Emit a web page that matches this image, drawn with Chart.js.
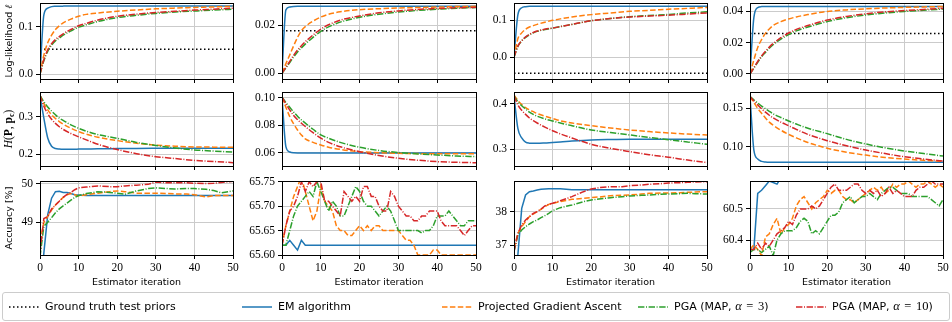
<!DOCTYPE html>
<html>
<head>
<meta charset="utf-8">
<script src="https://cdn.jsdelivr.net/npm/chart.js@4.4.0/dist/chart.umd.min.js"></script>
<style>
  body { margin: 0; background: #fff; width: 952px; height: 322px; overflow: hidden; position: relative; }
  canvas.panel { position: absolute; left: 0; top: 0; }
  #legend { position: absolute; left: 2px; top: 292px; width: 946px; height: 27px; border: 1px solid #cccccc; border-radius: 3px; background: #fff;
            font-family: "DejaVu Sans", sans-serif; font-size: 11px; color: #000; }
  #legend .item { position: absolute; top: 0; height: 27px; display: flex; align-items: center; white-space: nowrap; }
  #legend svg { margin-right: 6px; }
  #legend .m { font-family: "Liberation Serif", serif; font-size: 12.5px; word-spacing: 1.5px; }
</style>
</head>
<body>
<div id="legend">
  <div class="item" style="left:6px"><svg width="30" height="4"><line x1="0" y1="2" x2="30" y2="2" stroke="#000" stroke-width="1.5" stroke-dasharray="1.5 2.5"/></svg><span>Ground truth test priors</span></div>
  <div class="item" style="left:239px"><svg width="30" height="4"><line x1="0" y1="2" x2="30" y2="2" stroke="#1f77b4" stroke-width="1.5"/></svg><span>EM algorithm</span></div>
  <div class="item" style="left:439px"><svg width="30" height="4"><line x1="0" y1="2" x2="30" y2="2" stroke="#ff7f0e" stroke-width="1.5" stroke-dasharray="5.5 2.4"/></svg><span>Projected Gradient Ascent</span></div>
  <div class="item" style="left:635px"><svg width="30" height="4"><line x1="0" y1="2" x2="30" y2="2" stroke="#2ca02c" stroke-width="1.5" stroke-dasharray="6.4 1.6 1 1.6"/></svg><span>PGA (MAP, <span class="m"><i>α</i> = 3</span>)</span></div>
  <div class="item" style="left:793px"><svg width="30" height="4"><line x1="0" y1="2" x2="30" y2="2" stroke="#d62728" stroke-width="1.5" stroke-dasharray="6.4 1.6 1 1.6"/></svg><span>PGA (MAP, <span class="m"><i>α</i> = 10</span>)</span></div>
</div>
<script>
// ---- iterations ----
const itersSmooth = [0, 1, 2, 3, 4, 5, 6, 8, 10, 12, 15, 20, 25, 30, 35, 40, 45, 50];
const itersAcc = [0, 1, 2, 3, 4, 5, 6, 7, 8, 9, 10, 12, 15, 18, 20, 22, 25, 28, 30, 33, 35, 38, 40, 43, 45, 47, 50];
const itersAll = [0, 1, 2, 3, 4, 5, 6, 7, 8, 9, 10, 11, 12, 13, 14, 15, 16, 17, 18, 19, 20, 21, 22, 23, 24, 25,
  26, 27, 28, 29, 30, 31, 32, 33, 34, 35, 36, 37, 38, 39, 40, 41, 42, 43, 44, 45, 46, 47, 48, 49, 50];
const accIters = [itersAcc, itersAll, itersAcc, itersAll];

// ---- log-likelihood (row 1), one list per dataset column ----
const llTruth = [0.0525, 0.0178, -0.0436, 0.0259];
const llEM = [
  [0, 0.125, 0.139, 0.1423, 0.143, 0.1433, 0.1434, 0.1435, 0.1435, 0.1435, 0.1435, 0.1435, 0.1435, 0.1435, 0.1435, 0.1435, 0.1435, 0.1435],
  [0, 0.0265, 0.0277, 0.0279, 0.028, 0.028, 0.028, 0.028, 0.028, 0.028, 0.028, 0.028, 0.028, 0.028, 0.028, 0.028, 0.028, 0.028],
  [0, 0.115, 0.134, 0.137, 0.138, 0.138, 0.138, 0.138, 0.138, 0.138, 0.138, 0.138, 0.138, 0.138, 0.138, 0.138, 0.138, 0.138],
  [0, 0.036, 0.0425, 0.0431, 0.0432, 0.0432, 0.0432, 0.0432, 0.0432, 0.0432, 0.0432, 0.0432, 0.0432, 0.0432, 0.0432, 0.0432, 0.0432, 0.0432]
];
const llPGA = [
  [0, 0.040, 0.066, 0.082, 0.094, 0.102, 0.108, 0.116, 0.122, 0.126, 0.129, 0.1326, 0.1353, 0.1376, 0.1392, 0.1405, 0.1418, 0.143],
  [0, 0.004, 0.0077, 0.0115, 0.015, 0.0178, 0.0195, 0.0218, 0.0235, 0.0247, 0.0257, 0.0266, 0.027, 0.0273, 0.0275, 0.0277, 0.0279, 0.028],
  [0, 0.050, 0.066, 0.076, 0.082, 0.0856, 0.089, 0.095, 0.100, 0.104, 0.109, 0.1155, 0.120, 0.1245, 0.127, 0.130, 0.1325, 0.135],
  [0, 0.009, 0.017, 0.022, 0.026, 0.0288, 0.031, 0.0335, 0.0352, 0.0365, 0.038, 0.040, 0.041, 0.0417, 0.0422, 0.0426, 0.0429, 0.0432]
];
const llMAP3 = [
  [0, 0.028, 0.048, 0.061, 0.070, 0.076, 0.082, 0.091, 0.099, 0.104, 0.111, 0.119, 0.124, 0.128, 0.131, 0.133, 0.135, 0.137],
  [0, 0.0022, 0.0045, 0.0068, 0.0089, 0.0106, 0.0122, 0.015, 0.0175, 0.0194, 0.0214, 0.0234, 0.0247, 0.0256, 0.0263, 0.0268, 0.0272, 0.0275],
  [0, 0.029, 0.044, 0.054, 0.061, 0.066, 0.070, 0.075, 0.079, 0.083, 0.089, 0.099, 0.105, 0.110, 0.113, 0.116, 0.120, 0.123],
  [0, 0.0037, 0.0075, 0.011, 0.0138, 0.0165, 0.0187, 0.0223, 0.0252, 0.0276, 0.030, 0.0335, 0.036, 0.0377, 0.039, 0.040, 0.0408, 0.0415]
];
const llMAP10 = [
  [0, 0.030, 0.051, 0.064, 0.073, 0.079, 0.085, 0.094, 0.102, 0.107, 0.114, 0.122, 0.1265, 0.130, 0.1325, 0.135, 0.137, 0.139],
  [0, 0.0025, 0.005, 0.0075, 0.0097, 0.0115, 0.0132, 0.016, 0.0185, 0.0203, 0.0222, 0.024, 0.0253, 0.0261, 0.0267, 0.0271, 0.0274, 0.0276],
  [0, 0.030, 0.045, 0.055, 0.062, 0.067, 0.071, 0.076, 0.079, 0.083, 0.089, 0.099, 0.105, 0.109, 0.1115, 0.114, 0.117, 0.120],
  [0, 0.004, 0.008, 0.0115, 0.0145, 0.0172, 0.0195, 0.0232, 0.0262, 0.0285, 0.031, 0.0345, 0.0368, 0.0385, 0.0397, 0.0406, 0.0413, 0.042]
];

// ---- H(P, p_c) (row 2) ----
const hEM = [
  [0.357, 0.296, 0.243, 0.221, 0.215, 0.2135, 0.213, 0.213, 0.2132, 0.2135, 0.214, 0.2145, 0.215, 0.2152, 0.2153, 0.2155, 0.2155, 0.2155],
  [0.1003, 0.0644, 0.0605, 0.0599, 0.0598, 0.0598, 0.0598, 0.0598, 0.0598, 0.0598, 0.0598, 0.0598, 0.0598, 0.0598, 0.0598, 0.0598, 0.0598, 0.0598],
  [0.418, 0.346, 0.325, 0.316, 0.3135, 0.313, 0.313, 0.3138, 0.315, 0.316, 0.318, 0.3205, 0.3215, 0.322, 0.322, 0.3222, 0.3222, 0.3222],
  [0.1655, 0.0956, 0.0839, 0.0808, 0.080, 0.0797, 0.0797, 0.0797, 0.0797, 0.0797, 0.0797, 0.0797, 0.0797, 0.0797, 0.0797, 0.0797, 0.0797, 0.0797]
];
const hPGA = [
  [0.357, 0.335, 0.318, 0.305, 0.295, 0.287, 0.280, 0.269, 0.260, 0.253, 0.245, 0.236, 0.229, 0.224, 0.221, 0.219, 0.2185, 0.218],
  [0.1003, 0.093, 0.0862, 0.081, 0.0765, 0.0729, 0.070, 0.0675, 0.0656, 0.064, 0.0624, 0.0607, 0.060, 0.0595, 0.0593, 0.0592, 0.0592, 0.0592],
  [0.420, 0.408, 0.399, 0.392, 0.387, 0.383, 0.379, 0.373, 0.368, 0.363, 0.358, 0.352, 0.347, 0.3426, 0.339, 0.336, 0.3335, 0.3316],
  [0.1655, 0.1575, 0.150, 0.1435, 0.1375, 0.132, 0.128, 0.1215, 0.116, 0.1115, 0.1055, 0.098, 0.0928, 0.089, 0.086, 0.0839, 0.0822, 0.081]
];
const hMAP3 = [
  [0.357, 0.340, 0.326, 0.315, 0.305, 0.296, 0.290, 0.278, 0.269, 0.261, 0.252, 0.242, 0.231, 0.223, 0.216, 0.211, 0.208, 0.205],
  [0.1003, 0.0965, 0.093, 0.0895, 0.0865, 0.0838, 0.0815, 0.077, 0.0729, 0.0705, 0.0675, 0.0639, 0.0616, 0.0601, 0.0591, 0.0583, 0.0576, 0.0571],
  [0.418, 0.405, 0.396, 0.389, 0.382, 0.377, 0.373, 0.367, 0.3625, 0.358, 0.352, 0.3426, 0.337, 0.3316, 0.326, 0.321, 0.316, 0.311],
  [0.1655, 0.161, 0.157, 0.153, 0.1495, 0.146, 0.1428, 0.138, 0.1335, 0.1295, 0.124, 0.117, 0.1095, 0.1035, 0.0985, 0.0944, 0.091, 0.0878]
];
const hMAP10 = [
  [0.357, 0.328, 0.308, 0.293, 0.282, 0.273, 0.266, 0.255, 0.246, 0.238, 0.226, 0.212, 0.201, 0.193, 0.188, 0.183, 0.180, 0.177],
  [0.1003, 0.0955, 0.091, 0.087, 0.084, 0.0814, 0.079, 0.0745, 0.0705, 0.0675, 0.0643, 0.0607, 0.0579, 0.0559, 0.0545, 0.0535, 0.053, 0.0527],
  [0.418, 0.398, 0.386, 0.377, 0.369, 0.363, 0.358, 0.349, 0.341, 0.334, 0.325, 0.311, 0.302, 0.2947, 0.288, 0.2825, 0.276, 0.2705],
  [0.1655, 0.1595, 0.1545, 0.1495, 0.145, 0.141, 0.1375, 0.132, 0.1273, 0.1225, 0.116, 0.1078, 0.1012, 0.0956, 0.091, 0.0869, 0.0838, 0.0813]
];

// ---- accuracy [%] (row 3) ----
const accEM = [
  [47.0, 48.2, 49.2, 49.63, 49.80, 49.81, 49.78, 49.78, 49.75, 49.72, 49.71, 49.70, 49.70, 49.70, 49.70, 49.70, 49.70, 49.70, 49.70, 49.70, 49.70, 49.70, 49.70, 49.70, 49.70, 49.70, 49.70],
  [65.62, 65.62, 65.63, 65.62, 65.61, 65.63, 65.62, 65.62, 65.62, 65.62,
   65.62, 65.62, 65.62, 65.62, 65.62, 65.62, 65.62, 65.62, 65.62, 65.62,
   65.62, 65.62, 65.62, 65.62, 65.62, 65.62, 65.62, 65.62, 65.62, 65.62,
   65.62, 65.62, 65.62, 65.62, 65.62, 65.62, 65.62, 65.62, 65.62, 65.62,
   65.62, 65.62, 65.62, 65.62, 65.62, 65.62, 65.62, 65.62, 65.62, 65.62, 65.62],
  [36.0, 36.7, 38.10, 38.50, 38.60, 38.62, 38.65, 38.67, 38.68, 38.69, 38.69, 38.69, 38.66, 38.66, 38.66, 38.66, 38.66, 38.66, 38.66, 38.66, 38.66, 38.66, 38.66, 38.66, 38.66, 38.66, 38.66],
  [60.37, 60.37, 60.55, 60.56, 60.575, 60.59, 60.585, 60.58, 60.60, 60.61,
   60.61, 60.61, 60.61, 60.61, 60.61, 60.61, 60.61, 60.61, 60.61, 60.61,
   60.61, 60.61, 60.61, 60.61, 60.61, 60.61, 60.61, 60.61, 60.61, 60.61,
   60.61, 60.61, 60.61, 60.61, 60.61, 60.61, 60.61, 60.61, 60.61, 60.61,
   60.61, 60.61, 60.61, 60.61, 60.61, 60.61, 60.61, 60.61, 60.61, 60.61, 60.61]
];
const accPGA = [
  [48.5, 49.0, 49.15, 49.32, 49.45, 49.55, 49.65, 49.72, 49.75, 49.72, 49.69, 49.72, 49.76, 49.80, 49.82, 49.80, 49.76, 49.76, 49.76, 49.75, 49.74, 49.74, 49.72, 49.66, 49.70, 49.70, 49.70],
  [65.62, 65.66, 65.69, 65.72, 65.74, 65.76, 65.73, 65.70, 65.67, 65.69,
   65.74, 65.71, 65.70, 65.69, 65.66, 65.65, 65.65, 65.64, 65.64, 65.65,
   65.66, 65.65, 65.66, 65.65, 65.66, 65.66, 65.65, 65.65, 65.65, 65.65,
   65.65, 65.64, 65.63, 65.63, 65.62, 65.60, 65.60, 65.60, 65.60, 65.61,
   65.61, 65.60, 65.60, 65.60, 65.60, 65.60, 65.60, 65.60, 65.60, 65.60, 65.60],
  [36.9, 37.35, 37.55, 37.70, 37.85, 37.93, 38.00, 38.07, 38.15, 38.22, 38.25, 38.30, 38.37, 38.40, 38.42, 38.44, 38.48, 38.49, 38.50, 38.53, 38.55, 38.56, 38.56, 38.57, 38.58, 38.59, 38.60],
  [60.37, 60.385, 60.37, 60.35, 60.41, 60.42, 60.45, 60.47, 60.42, 60.44,
   60.45, 60.47, 60.51, 60.53, 60.54, 60.52, 60.50, 60.52, 60.53, 60.54,
   60.56, 60.55, 60.56, 60.56, 60.54, 60.53, 60.53, 60.52, 60.53, 60.54,
   60.55, 60.56, 60.57, 60.56, 60.57, 60.55, 60.56, 60.58, 60.57, 60.58,
   60.58, 60.59, 60.58, 60.57, 60.58, 60.58, 60.59, 60.58, 60.57, 60.58, 60.57]
];
const accMAP3 = [
  [48.1, 48.9, 49.0, 49.12, 49.25, 49.35, 49.43, 49.50, 49.58, 49.65, 49.70, 49.75, 49.80, 49.78, 49.76, 49.73, 49.82, 49.88, 49.90, 49.88, 49.87, 49.88, 49.88, 49.86, 49.83, 49.77, 49.82],
  [65.62, 65.62, 65.65, 65.68, 65.70, 65.71, 65.72, 65.73, 65.72, 65.75,
   65.73, 65.71, 65.69, 65.71, 65.70, 65.68, 65.68, 65.70, 65.72, 65.74,
   65.73, 65.71, 65.70, 65.70, 65.69, 65.68, 65.69, 65.70, 65.69, 65.67,
   65.65, 65.65, 65.65, 65.65, 65.65, 65.65, 65.645, 65.65, 65.65, 65.66,
   65.68, 65.68, 65.68, 65.69, 65.68, 65.67, 65.66, 65.66, 65.67, 65.67, 65.67],
  [36.8, 37.30, 37.45, 37.55, 37.63, 37.70, 37.75, 37.82, 37.88, 37.95, 38.03, 38.12, 38.20, 38.30, 38.35, 38.38, 38.42, 38.45, 38.47, 38.49, 38.50, 38.52, 38.53, 38.54, 38.55, 38.54, 38.53],
  [60.36, 60.37, 60.37, 60.36, 60.37, 60.38, 60.35, 60.40, 60.42, 60.43,
   60.43, 60.43, 60.44, 60.46, 60.47, 60.46, 60.42, 60.43, 60.42, 60.44,
   60.46, 60.48, 60.48, 60.49, 60.52, 60.53, 60.54, 60.52, 60.53, 60.54,
   60.54, 60.55, 60.54, 60.53, 60.55, 60.56, 60.57, 60.57, 60.56, 60.55,
   60.55, 60.55, 60.54, 60.54, 60.54, 60.54, 60.54, 60.53, 60.52, 60.51, 60.53]
];
const accMAP10 = [
  [48.2, 49.10, 49.15, 49.35, 49.45, 49.55, 49.65, 49.73, 49.78, 49.85, 49.90, 49.92, 49.95, 49.93, 49.93, 49.95, 49.97, 49.99, 50.05, 50.03, 50.03, 50.03, 50.02, 50.01, 50.02, 50.04, 50.07],
  [65.62, 65.66, 65.69, 65.70, 65.72, 65.75, 65.73, 65.75, 65.74, 65.75,
   65.75, 65.71, 65.71, 65.70, 65.69, 65.68, 65.73, 65.72, 65.71, 65.72,
   65.71, 65.74, 65.74, 65.72, 65.72, 65.70, 65.69, 65.69, 65.73, 65.72,
   65.70, 65.69, 65.68, 65.68, 65.67, 65.67, 65.68, 65.68, 65.69, 65.69,
   65.69, 65.67, 65.66, 65.66, 65.66, 65.66, 65.65, 65.64, 65.65, 65.66, 65.66],
  [36.8, 37.35, 37.60, 37.75, 37.85, 37.95, 38.00, 38.08, 38.17, 38.22, 38.25, 38.33, 38.45, 38.60, 38.68, 38.72, 38.75, 38.75, 38.78, 38.80, 38.82, 38.84, 38.86, 38.87, 38.88, 38.89, 38.90],
  [60.37, 60.37, 60.39, 60.37, 60.39, 60.38, 60.40, 60.42, 60.43, 60.44,
   60.46, 60.45, 60.48, 60.50, 60.50, 60.50, 60.51, 60.50, 60.51, 60.53,
   60.55, 60.57, 60.58, 60.56, 60.56, 60.56, 60.57, 60.58, 60.58, 60.56,
   60.55, 60.56, 60.55, 60.56, 60.54, 60.55, 60.57, 60.55, 60.56, 60.55,
   60.54, 60.54, 60.54, 60.56, 60.57, 60.57, 60.58, 60.59, 60.58, 60.58, 60.58]
];

// ---- axes ----
const llRange = [[-0.0105, 0.150], [-0.0024, 0.0294], [-0.059, 0.147], [-0.0032, 0.0454]];
const llTicks = [[0, 0.1], [0, 0.02], [0, 0.1], [0, 0.02, 0.04]];
const llDecimals = [1, 2, 1, 2];
const hRange = [[0.168, 0.366], [0.0503, 0.1041], [0.263, 0.4265], [0.0748, 0.1713]];
const hTicks = [[0.2, 0.3], [0.06, 0.08, 0.10], [0.3, 0.4], [0.10, 0.15]];
const hDecimals = [1, 2, 1, 2];
const accRange = [[48.146, 50.078], [65.60, 65.7515], [36.70, 38.92], [60.352, 60.59]];
const accTicks = [[49, 50], [65.60, 65.65, 65.70, 65.75], [37, 38], [60.4, 60.5]];
const accDecimals = [0, 2, 0, 1];
const xTicks = [0, 10, 20, 30, 40, 50];

// layout of the 3 x 4 grid (page pixels)
const W = 952, H = 322;
const colLeft = [40, 282, 514, 750];
const colRight = [233, 476, 707, 943];
const rowTop = [3, 92, 181];
const rowBottom = [79, 166, 255];

const TAB_BLUE = '#1f77b4', TAB_ORANGE = '#ff7f0e', TAB_GREEN = '#2ca02c', TAB_RED = '#d62728';
const SERIF = '"Liberation Serif", serif';
const SANS = '"DejaVu Sans", sans-serif';

const yLabels = [
    [{t: 'Log-likelihood ', f: '9.5px ' + SANS}, {t: 'ℓ', f: 'italic 10px "DejaVu Serif"'}],
    [{t: 'H', f: 'italic 11.5px ' + SERIF}, {t: '(', f: '11.5px ' + SERIF}, {t: 'P', f: 'bold 11.5px ' + SERIF},
     {t: ', ', f: '11.5px ' + SERIF}, {t: 'p', f: 'bold 11.5px ' + SERIF}, {t: 'c', f: 'bold 8px ' + SERIF, dy: 2.5},
     {t: ')', f: '11.5px ' + SERIF}],
    [{t: 'Accuracy [%]', f: '9.5px ' + SANS}]
];

// box around the plot area, drawn over the lines like matplotlib spines
const framePlugin = {
    id: 'frame',
    afterDatasetsDraw(chart) {
        const a = chart.chartArea;
        const ctx = chart.ctx;
        ctx.save();
        ctx.strokeStyle = '#000';
        ctx.lineWidth = 1;
        ctx.strokeRect(Math.round(a.left) + 0.5, Math.round(a.top) + 0.5,
            Math.round(a.right) - Math.round(a.left), Math.round(a.bottom) - Math.round(a.top));
        ctx.restore();
    }
};

// axis titles (y on the first column, x on the last row)
const axisTitlePlugin = {
    id: 'axisTitles',
    afterDraw(chart, args, opts) {
        const ctx = chart.ctx;
        const a = chart.chartArea;
        ctx.save();
        ctx.fillStyle = '#000';
        if (opts.yParts) {
            let total = 0;
            opts.yParts.forEach(p => { ctx.font = p.f; total += ctx.measureText(p.t).width; });
            ctx.translate(8, (a.top + a.bottom) / 2);
            ctx.rotate(-Math.PI / 2);
            ctx.textBaseline = 'alphabetic';
            let x = -total / 2;
            opts.yParts.forEach(p => {
                ctx.font = p.f;
                ctx.fillText(p.t, x, 3.5 + (p.dy || 0));
                x += ctx.measureText(p.t).width;
            });
            ctx.setTransform(1, 0, 0, 1, 0, 0);
        }
        if (opts.xTitle) {
            ctx.font = '9.5px ' + SANS;
            ctx.textAlign = 'center';
            ctx.textBaseline = 'middle';
            ctx.fillText(opts.xTitle, (a.left + a.right) / 2, 282.5);
        }
        ctx.restore();
    }
};

function line(xs, ys, color, dash, smooth) {
    return {
        data: xs.map((x, i) => ({x: x, y: ys[i]})),
        borderColor: color,
        backgroundColor: color,
        borderWidth: 1.5,
        borderDash: dash,
        pointRadius: 0,
        fill: false,
        tension: 0,
        cubicInterpolationMode: smooth ? 'monotone' : 'default'
    };
}

function makePanel(row, col, xs, em, pga, map3, map10, truth, range, ticks, decimals) {
    const canvas = document.createElement('canvas');
    canvas.className = 'panel';
    canvas.width = W;
    canvas.height = H;
    document.body.insertBefore(canvas, document.getElementById('legend'));

    const smooth = row < 2;
    // first dataset is drawn on top
    const datasets = [
        line(xs, map10, TAB_RED, [6.4, 1.6, 1, 1.6], smooth),
        line(xs, map3, TAB_GREEN, [6.4, 1.6, 1, 1.6], smooth),
        line(xs, pga, TAB_ORANGE, [5.5, 2.4], smooth),
        line(xs, em, TAB_BLUE, [], smooth)
    ];
    if (truth !== null) {
        datasets.push(line([0, 50], [truth, truth], '#000', [1.5, 2.5], false));
    }

    const L = colLeft[col], R = colRight[col], T = rowTop[row], B = rowBottom[row];
    new Chart(canvas, {
        type: 'line',
        data: {datasets: datasets},
        options: {
            responsive: false,
            animation: false,
            events: [],
            layout: {padding: {left: 0, top: T, right: W - R, bottom: 0}},
            scales: {
                x: {
                    type: 'linear',
                    min: 0,
                    max: 50,
                    afterBuildTicks: s => { s.ticks = xTicks.map(v => ({value: v})); },
                    afterFit: s => { s.height = H - B; s.paddingLeft = 0; s.paddingRight = 0; },
                    border: {display: false},
                    grid: {color: '#cbcbcb', lineWidth: 1, drawTicks: true, tickLength: 4, tickColor: '#000', tickWidth: 1},
                    ticks: {
                        display: row === 2,
                        padding: 2,
                        color: '#000',
                        maxRotation: 0,
                        font: {family: SERIF, size: 11.5},
                        callback: v => String(v)
                    }
                },
                y: {
                    type: 'linear',
                    min: range[0],
                    max: range[1],
                    afterBuildTicks: s => { s.ticks = ticks.map(v => ({value: v})); },
                    afterFit: s => { s.width = L; s.paddingTop = 0; s.paddingBottom = 0; },
                    border: {display: false},
                    grid: {color: '#cbcbcb', lineWidth: 1, drawTicks: true, tickLength: 4, tickColor: '#000', tickWidth: 1},
                    ticks: {
                        padding: 3,
                        color: '#000',
                        font: {family: SERIF, size: 11.5},
                        callback: v => Number(v).toFixed(decimals)
                    }
                }
            },
            plugins: {
                legend: {display: false},
                tooltip: {enabled: false},
                axisTitles: {
                    yParts: col === 0 ? yLabels[row] : null,
                    xTitle: row === 2 ? 'Estimator iteration' : null
                }
            }
        },
        plugins: [framePlugin, axisTitlePlugin]
    });
}

for (let c = 0; c < 4; c++) {
    makePanel(0, c, itersSmooth, llEM[c], llPGA[c], llMAP3[c], llMAP10[c], llTruth[c], llRange[c], llTicks[c], llDecimals[c]);
    makePanel(1, c, itersSmooth, hEM[c], hPGA[c], hMAP3[c], hMAP10[c], null, hRange[c], hTicks[c], hDecimals[c]);
    makePanel(2, c, accIters[c], accEM[c], accPGA[c], accMAP3[c], accMAP10[c], null, accRange[c], accTicks[c], accDecimals[c]);
}
</script>
</body>
</html>
